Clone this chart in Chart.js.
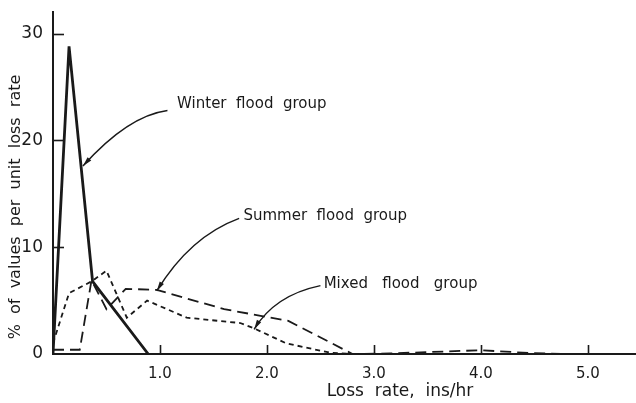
<!DOCTYPE html>
<html>
<head>
<meta charset="utf-8">
<script src="https://cdn.jsdelivr.net/npm/chart.js@4.4.1/dist/chart.umd.min.js"></script>
<style>
    html, body { margin: 0; padding: 0; background: #fff; }
    #wrap { width: 636px; height: 403px; position: relative; }
</style>
</head>
<body>
<div id="wrap"><canvas id="chart"></canvas></div>
<script>
// loss rate (ins/hr) vs % of values per unit loss rate
const winterX = [0, 0.15, 0.37, 0.89];
const winterY = [0, 28.8, 6.8, 0];

const summerX = [0, 0.25, 0.36, 0.5, 0.68, 0.97, 1.6, 2.2, 2.8, 3.15, 3.7, 4.0, 4.45, 4.75];
const summerY = [0.4, 0.4, 6.9, 4.2, 6.1, 6.0, 4.2, 3.1, 0, 0.05, 0.25, 0.35, 0.1, 0];

const mixedX = [0, 0.15, 0.36, 0.5, 0.69, 0.88, 1.25, 1.75, 1.88, 2.18, 2.6, 2.8];
const mixedY = [1.0, 5.7, 6.8, 7.8, 3.4, 5.0, 3.4, 2.9, 2.4, 1.0, 0.1, 0];

const xTicks = [1, 2, 3, 4, 5];
const yTicks = [0, 10, 20, 30];

const ink = '#1a1a1a';
const font = '"DejaVu Sans", sans-serif';

function toPoints(xs, ys) {
    return xs.map(function (x, i) { return { x: x, y: ys[i] }; });
}

// labels with their arrows, in data units: text anchor, curve start, control, tip
const notes = [
    { text: 'Winter  flood  group', at: [1.16, 23.4], from: [1.07, 22.8], ctrl: [0.7, 22.3], to: [0.28, 17.6] },
    { text: 'Summer  flood  group', at: [1.78, 12.9], from: [1.74, 12.7], ctrl: [1.28, 11.0], to: [0.97, 5.9] },
    { text: 'Mixed   flood   group', at: [2.53, 6.5], from: [2.5, 6.4], ctrl: [2.07, 5.5], to: [1.88, 2.3] }
];

const decor = {
    id: 'decor',
    afterDraw: function (chart) {
        const ctx = chart.ctx;
        const xs = chart.scales.x;
        const ys = chart.scales.y;
        const area = chart.chartArea;
        ctx.save();
        ctx.strokeStyle = ink;
        ctx.fillStyle = ink;
        ctx.lineWidth = 1.6;

        // inward tick marks
        xTicks.forEach(function (v) {
            const px = Math.round(xs.getPixelForValue(v)) + 0.5;
            ctx.beginPath();
            ctx.moveTo(px, area.bottom);
            ctx.lineTo(px, area.bottom - 9);
            ctx.stroke();
        });
        yTicks.slice(1).forEach(function (v) {
            const py = Math.round(ys.getPixelForValue(v)) + 0.5;
            ctx.beginPath();
            ctx.moveTo(area.left, py);
            ctx.lineTo(area.left + 11, py);
            ctx.stroke();
        });

        // annotations with curved arrows
        ctx.font = '15px ' + font;
        ctx.textBaseline = 'middle';
        ctx.textAlign = 'left';
        notes.forEach(function (n) {
            const p0 = [xs.getPixelForValue(n.from[0]), ys.getPixelForValue(n.from[1])];
            const c = [xs.getPixelForValue(n.ctrl[0]), ys.getPixelForValue(n.ctrl[1])];
            const p2 = [xs.getPixelForValue(n.to[0]), ys.getPixelForValue(n.to[1])];
            ctx.lineWidth = 1.5;
            ctx.beginPath();
            ctx.moveTo(p0[0], p0[1]);
            ctx.quadraticCurveTo(c[0], c[1], p2[0], p2[1]);
            ctx.stroke();
            const ang = Math.atan2(p2[1] - c[1], p2[0] - c[0]);
            ctx.beginPath();
            ctx.moveTo(p2[0], p2[1]);
            ctx.lineTo(p2[0] - 10 * Math.cos(ang - 0.25), p2[1] - 10 * Math.sin(ang - 0.25));
            ctx.lineTo(p2[0] - 10 * Math.cos(ang + 0.25), p2[1] - 10 * Math.sin(ang + 0.25));
            ctx.closePath();
            ctx.fill();
            ctx.fillText(n.text, xs.getPixelForValue(n.at[0]), ys.getPixelForValue(n.at[1]));
        });

        // axis titles
        ctx.font = '17px ' + font;
        ctx.textAlign = 'center';
        ctx.fillText('Loss  rate,  ins/hr', 400, 392);
        ctx.font = '16px ' + font;
        ctx.translate(16, 207);
        ctx.rotate(-Math.PI / 2);
        ctx.fillText('%  of  values  per  unit  loss  rate', 0, 0);
        ctx.restore();
    }
};

new Chart(document.getElementById('chart').getContext('2d'), {
    type: 'line',
    data: {
        datasets: [
            {
                label: 'Mixed flood group',
                data: toPoints(mixedX, mixedY),
                borderColor: ink,
                borderWidth: 1.8,
                borderDash: [5, 4]
            },
            {
                label: 'Summer flood group',
                data: toPoints(summerX, summerY),
                borderColor: ink,
                borderWidth: 1.8,
                borderDash: [11, 6]
            },
            {
                label: 'Winter flood group',
                data: toPoints(winterX, winterY),
                borderColor: ink,
                borderWidth: 2.8
            }
        ]
    },
    options: {
        responsive: true,
        maintainAspectRatio: false,
        animation: false,
        layout: { padding: { top: 7, right: 0, left: 0, bottom: 0 } },
        elements: {
            point: { radius: 0 },
            line: { tension: 0, fill: false }
        },
        plugins: {
            legend: { display: false },
            tooltip: { enabled: false }
        },
        scales: {
            x: {
                type: 'linear',
                min: 0,
                max: 5.45,
                afterFit: function (s) { s.height = 49; },
                afterBuildTicks: function (s) {
                    s.ticks = xTicks.map(function (v) { return { value: v }; });
                },
                grid: { display: false },
                border: { color: ink, width: 2 },
                ticks: {
                    color: ink,
                    padding: 3,
                    font: { family: font, size: 15 },
                    maxRotation: 0,
                    callback: function (v) { return v.toFixed(1); }
                }
            },
            y: {
                min: 0,
                max: 32,
                afterFit: function (s) { s.width = 53; },
                afterBuildTicks: function (s) {
                    s.ticks = yTicks.map(function (v) { return { value: v }; });
                },
                grid: { display: false },
                border: { color: ink, width: 2 },
                ticks: {
                    color: ink,
                    padding: 2,
                    font: { family: font, size: 17 }
                }
            }
        }
    },
    plugins: [decor]
});
</script>
</body>
</html>
